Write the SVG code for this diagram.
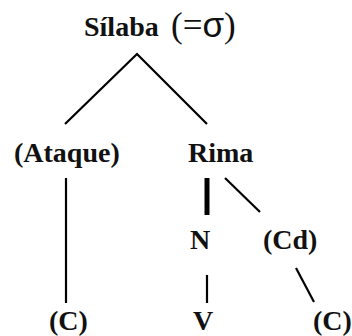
<svg xmlns="http://www.w3.org/2000/svg" width="352" height="336" viewBox="0 0 352 336">
<style>
text{font-family:"Liberation Serif","Times New Roman",serif;font-weight:bold;font-size:28px;fill:#111}
.sym{font-weight:normal;font-size:35px}
.sig{font-family:"Liberation Sans",Arial,sans-serif;font-weight:normal;font-size:35px}
.e{stroke:#000;stroke-width:2.2;fill:none;stroke-linecap:butt}
</style>
<rect width="352" height="336" fill="#fff"/>
<g id="silaba"><text x="84" y="36">Sílaba</text><text x="171" y="37"><tspan class="sym">(=</tspan><tspan class="sig">σ</tspan><tspan class="sym">)</tspan></text></g>
<g id="ataque"><text x="14" y="162">(Ataque)</text></g>
<g id="rima"><text x="188" y="162">Rima</text></g>
<g id="n"><text x="190" y="249">N</text></g>
<g id="cd"><text x="263" y="249">(Cd)</text></g>
<g id="c1"><text x="49" y="330">(C)</text></g>
<g id="v"><text x="193" y="330">V</text></g>
<g id="c2"><text x="313" y="330">(C)</text></g>
<g id="connectors">
<path class="e" d="M65,124 L137,54 L207,124"/>
<path class="e" d="M66,178 V303"/>
<path class="e" d="M207,178 V215" style="stroke-width:5"/>
<path class="e" d="M225,178 L260,212"/>
<path class="e" d="M207,275 V303"/>
<path class="e" d="M296,268 L314,302"/>
</g>
</svg>
